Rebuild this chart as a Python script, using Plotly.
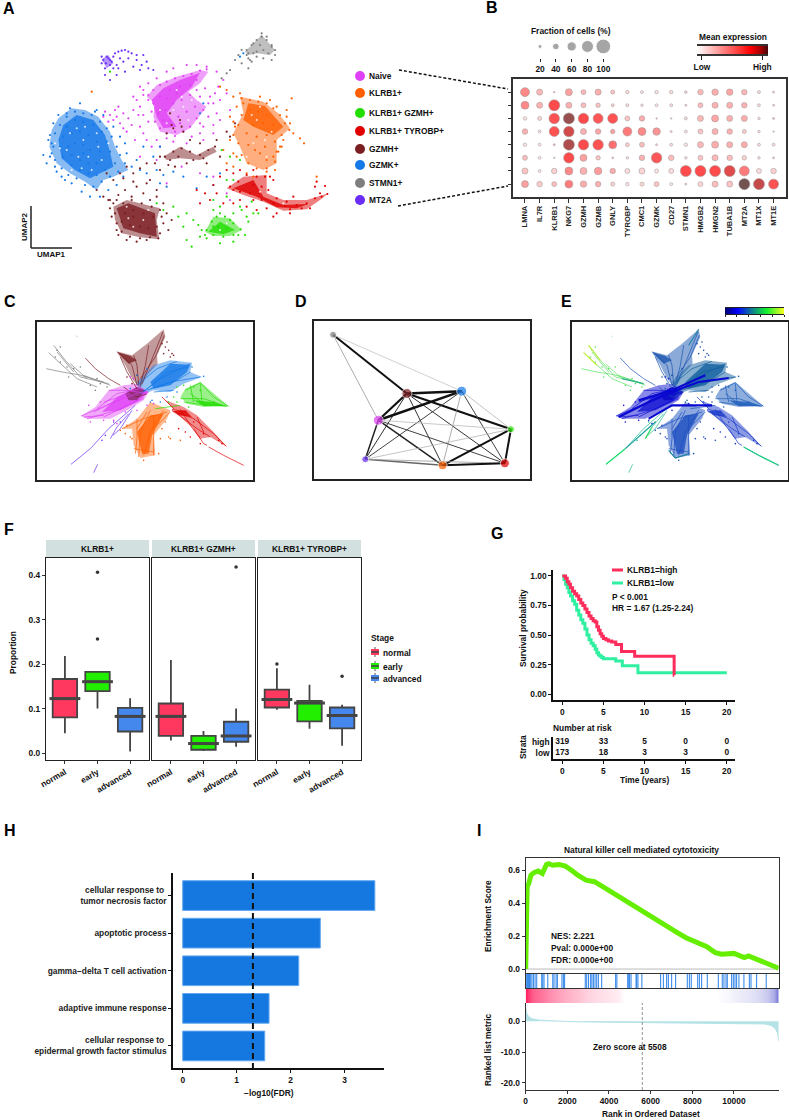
import plotly.graph_objects as go

# ---------- DATA ----------
clusters = ["Naive", "KLRB1+", "KLRB1+ GZMH+", "KLRB1+ TYROBP+", "GZMH+", "GZMK+", "STMN1+", "MT2A"]
genes = ["LMNA", "IL7R", "KLRB1", "NKG7", "GZMH", "GZMB", "GNLY", "TYROBP", "CMC1", "GZMK", "CD27", "STMN1",
         "HMGB2", "HMGN2", "TUBA1B", "MT2A", "MT1X", "MT1E"]
fraction = [
    [58, 36, 2, 43, 28, 36, 21, 17, 13, 17, 17, 10, 32, 39, 39, 32, 13, 6],
    [50, 36, 73, 36, 28, 24, 13, 13, 10, 13, 13, 6, 28, 36, 36, 32, 13, 6],
    [17, 21, 69, 73, 69, 65, 65, 28, 32, 2, 2, 13, 36, 43, 36, 36, 10, 6],
    [32, 13, 65, 69, 36, 32, 24, 58, 50, 47, 6, 13, 28, 36, 32, 21, 10, 2],
    [17, 13, 6, 73, 69, 69, 50, 21, 28, 6, 13, 17, 36, 43, 36, 36, 13, 13],
    [28, 13, 2, 69, 43, 24, 5, 10, 32, 69, 32, 10, 28, 36, 32, 24, 10, 6],
    [36, 13, 32, 50, 43, 47, 32, 28, 36, 21, 28, 73, 73, 73, 73, 65, 28, 32],
    [43, 32, 28, 50, 39, 32, 21, 17, 21, 28, 13, 6, 28, 36, 36, 73, 73, 65],
]
expression = [
    [.50, .30, .35, .40, .30, .35, .25, .15, .12, .12, .15, .20, .30, .35, .38, .30, .15, .20],
    [.50, .33, .75, .33, .28, .25, .20, .15, .12, .12, .15, .20, .28, .33, .33, .33, .15, .20],
    [.12, .18, .72, .95, .75, .70, .72, .25, .35, .30, .25, .15, .30, .38, .33, .35, .12, .30],
    [.33, .12, .72, .85, .33, .38, .40, .55, .50, .45, .20, .12, .25, .33, .33, .22, .15, .20],
    [.12, .10, .30, .92, .75, .72, .60, .20, .28, .20, .13, .12, .30, .35, .33, .35, .13, .15],
    [.28, .10, .25, .75, .40, .25, .25, .12, .33, .70, .28, .15, .25, .30, .28, .20, .12, .20],
    [.25, .10, .20, .50, .33, .42, .35, .15, .18, .12, .15, .75, .75, .75, .82, .55, .15, .20],
    [.40, .22, .28, .55, .35, .33, .20, .12, .18, .25, .10, .20, .18, .28, .25, 1.0, .88, .72],
]
fraction_legend = [20, 40, 60, 80, 100]
expression_levels = [0, .2, .4, .6, .75, .9, 1]

umap_poly = {
    "GZMK+": [(148,440),(155,390),(175,355),(215,325),(255,330),(295,350),(330,395),(345,440),(365,480),(385,510),(340,530),(310,540),(290,570),(255,545),(210,520),(170,490)],
    "Naive": [(440,290),(470,255),(530,230),(600,210),(625,215),(600,250),(565,275),(590,300),(620,320),(590,360),(570,385),(530,405),(480,395),(460,350),(465,310)],
    "GZMH+": [(340,620),(380,600),(480,625),(470,660),(478,718),(420,712),(365,700),(345,660)],
    "GZMH+2": [(490,470),(540,440),(590,465),(640,440),(650,455),(600,480),(540,475),(500,480)],
    "KLRB1+": [(720,290),(790,305),(835,340),(870,385),(830,420),(830,490),(790,510),(740,490),(720,440),(700,400),(730,340)],
    "KLRB1+ TYROBP+": [(680,565),(730,530),(800,525),(800,580),(850,600),(920,600),(985,580),(960,600),(920,628),(850,632),(790,605),(730,585)],
    "KLRB1+ GZMH+": [(615,695),(640,650),(690,655),(725,690),(690,708),(640,708)],
    "STMN1+": [(735,155),(785,105),(825,150),(810,165),(770,160),(745,165)],
    "MT2A": [(305,178),(325,165),(340,190),(320,205)],
}
umap_core = {
    "GZMK+": [(175,420),(190,375),(230,345),(280,360),(315,405),(330,455),(340,500),(300,520),(270,535),(225,510),(185,475)],
    "Naive": [(455,300),(490,265),(540,240),(600,218),(575,262),(530,300),(500,340),(530,380),(490,385),(470,350)],
    "KLRB1+": [(745,310),(795,318),(850,380),(820,405),(760,380),(730,360)],
    "GZMH+": [(350,625),(385,610),(465,640),(470,710),(420,700),(370,685)],
    "KLRB1+ TYROBP+": [(700,565),(760,540),(790,590),(850,615),(925,612),(890,625),(830,622),(770,590)],
    "KLRB1+ GZMH+": [(625,695),(660,665),(705,690),(670,703)],
}
umap_gaps = [(210,400),(250,420),(235,470),(290,400),(200,450),(265,470),(305,480),(230,385),(180,445),(275,510),(215,510),(325,430),(255,380),(295,440),(165,430),(245,505),(520,330),(550,320),(480,330),(530,270),(565,360),(500,370),(460,320),(545,290),(575,300),(770,360),(795,420),(760,430),(740,470),(800,470),(780,320),(815,395),(755,345),(400,680),(430,660),(380,620),(445,630),(385,655),(850,610),(780,575),(660,690),(680,670)]
umap_naive = [(315,335),(330,345),(345,330),(355,320),(370,340),(385,355),(340,360),(310,350),(360,370),(400,330),(415,345),(395,375),(380,395),(420,380),(430,400),(405,420),(370,385),(350,350),(325,365),(440,420),(455,440),(420,320),(430,345),(445,365),(410,300),(400,290),(430,270),(420,260),(445,250),(470,235),(500,215),(520,205),(560,195),(590,195),(620,200),(650,215),(670,240),(655,260),(645,280),(660,300),(640,310),(650,340),(625,350),(610,380),(640,375),(600,400),(575,410),(560,430),(520,425),(500,415),(470,420),(480,440),(610,420),(640,400),(660,360),(680,280),(690,330),(545,500),(600,520),(640,530),(680,580),(690,600),(500,550),(470,480),(420,470),
              (445,285),(460,270),(480,255),(500,245),(525,235),(550,228),(575,222),(600,212),(620,208),(590,240),(570,255),(540,260),(510,270),(480,290),(460,310),(455,335),(465,365),(480,385),(500,400),(525,408),(550,395),(570,380),(590,355),(610,330),(625,310),(600,290),(570,285),(545,300),(520,310),(495,330),(510,360),(535,350),(560,335),(585,320),(475,340),(445,300),(430,285),(600,370),(630,290),(615,265),(590,270),(530,280),(500,295),(540,370),(490,360),(525,395)]
umap_gzmh = [(290,570),(310,590),(325,600),(330,625),(355,585),(375,570),(395,590),(410,560),(430,580),(450,600),(470,590),(490,610),(500,640),(515,660),(505,690),(490,670),(480,700),(335,650),(350,690),(355,705),(380,720),(410,725),(440,720),(340,540),(360,520),(400,520),(420,505),(440,490),(465,490),(480,510),(505,495),(525,500),(470,570),(440,550),(400,545),(380,500),(500,400),(520,385),(550,395),(570,420),(600,430),(650,420),(680,395),(690,410),(705,370),(660,470),(620,490),(560,490),(540,360),(510,340),(515,375),(545,380),(370,535),(320,520),(450,540),(400,630),
             (340,610),(345,640),(350,670),(365,695),(390,710),(420,715),(450,712),(475,715),(470,680),(460,650),(480,630),(455,620),(425,610),(395,600),(370,610),(375,640),(400,650),(430,640),(420,680),(390,675),(365,665),(445,685),(330,600),(350,600),(485,650),(495,470),(520,455),(545,445),(570,455),(600,465),(625,450),(645,440),(610,475),(580,480),(535,470),(510,480),(480,470)]
umap_gzmk = [(130,465),(140,490),(150,405),(160,370),(165,500),(185,530),(215,550),(245,575),(270,590),(300,590),(325,570),(350,555),(370,530),(395,500),(410,480),(420,510),(440,520),(470,510),(490,525),(380,460),(375,430),(360,410),(340,380),(240,310),(210,325),(290,330),(460,470),(430,440),(480,440),(520,515),(550,530),(590,565),(640,555),(620,530),(480,550),(500,560),(660,520),(600,340),(610,310),(730,160),(720,170),(175,345),(155,430),(200,340),
             (165,400),(180,375),(200,350),(225,335),(250,340),(275,345),(300,365),(320,385),(335,410),(350,440),(360,465),(375,490),(160,440),(155,460),(165,480),(185,505),(205,525),(230,535),(255,555),(280,560),(305,545),(330,530),(355,515),(200,380),(225,360),(250,365),(280,375),(305,395),(320,425),(330,455),(345,490),(315,510),(290,525),(265,520),(240,510),(215,495),(190,470),(180,440),(190,410),(215,400),(240,395),(265,405),(290,425),(300,455),(290,490),(265,490),(240,480),(215,465),(205,440),(225,430),(250,435),(270,450),(250,460),(145,420),(150,470),(170,515),(195,540),(285,335),(310,345)]
umap_klrb1 = [(680,270),(700,290),(720,280),(780,290),(875,295),(860,330),(880,400),(900,415),(912,430),(840,440),(850,420),(825,510),(800,515),(740,520),(700,500),(680,490),(670,450),(690,420),(705,380),(690,350),(710,320),(660,260),(830,320),(870,370),(760,530),(710,470),(950,530),(275,275),(780,460),(820,470),(800,480),(835,455),
              (725,295),(750,300),(775,305),(800,310),(820,325),(840,345),(855,370),(868,390),(845,405),(825,425),(830,455),(825,485),(800,505),(770,505),(745,490),(725,465),(715,430),(700,405),(715,375),(725,345),(750,330),(775,335),(800,345),(820,375),(790,370),(760,375),(740,400),(770,410),(800,405),(795,440),(765,450),(745,435),(700,365),(730,310),(810,300),(860,350),(845,440),(700,460)]
umap_tyrobp = [(640,555),(650,580),(615,580),(660,530),(680,510),(700,520),(720,510),(760,510),(810,530),(820,540),(700,610),(670,610),(630,600),(720,600),(760,600),(770,630),(800,625),(820,650),(830,640),(870,640),(950,545),(945,560),(975,558),(960,580),(880,590),(740,620),(600,610),(590,570),
               (690,560),(715,545),(740,525),(770,530),(795,530),(805,570),(830,595),(860,605),(890,615),(920,610),(945,595),(965,590),(982,582),(930,625),(870,628),(820,610),(785,600),(750,580),(720,575),(760,555),(785,560),(700,570),(855,618),(905,625)]
umap_gzmh_b = [(470,610),(490,630),(520,620),(535,650),(560,640),(550,680),(580,660),(595,675),(600,710),(575,740),(560,720),(640,630),(660,620),(680,590),(700,640),(725,630),(740,650),(760,640),(775,640),(700,540),(680,540),(720,480),(665,450),(690,470),(745,665),(735,705),(700,725),(660,730),(620,715),(605,690),(720,620),(755,605),(330,215),(640,600),
               (620,690),(635,665),(650,650),(675,650),(700,670),(722,688),(700,705),(670,710),(640,705),(655,680),(680,685),(615,705),(660,640),(690,660),(715,705),(640,680)]
umap_stmn1 = [(705,180),(715,165),(725,190),(745,175),(755,185),(770,170),(790,175),(815,180),(825,165),(815,140),(800,110),(785,100),(760,130),(740,165),(725,150),(690,210),(680,220),(745,205),(750,180),(665,235),
              (740,150),(755,135),(770,120),(785,110),(800,120),(815,135),(825,150),(790,150),(770,155),(745,160),(760,160),(805,160),(780,135)]
umap_mt2a = [(340,170),(345,160),(355,155),(365,152),(375,150),(385,155),(395,160),(410,165),(430,165),(440,185),(425,195),(445,205),(460,210),(350,195),(370,185),(385,175),(360,175),(340,205),(315,225),(330,240),(350,225),(375,215),(420,210),(400,200),(305,170),(330,180),(355,205),(410,180),
             (310,180),(318,190),(325,175),(330,195),(305,190),(315,205),(335,185),(320,170)]

traj_poly = {
    "GZMH+": [(238,88),(285,100),(330,65),(380,22),(385,45),(360,100),(362,125),(330,160),(310,200),(285,170),(265,130)],
    "GZMK+": [(300,180),(350,130),(400,115),(465,122),(460,150),(495,165),(440,185),(400,210),(350,205),(310,220)],
    "KLRB1+ GZMH+": [(490,180),(530,215),(575,253),(500,255),(450,245),(430,225),(445,200)],
    "Naive": [(132,282),(175,255),(215,205),(260,190),(300,185),(335,210),(320,235),(270,265),(220,290),(150,290)],
    "KLRB1+": [(255,320),(300,290),(340,240),(400,265),(390,290),(350,340),(355,400),(310,408),(290,370),(285,320)],
    "KLRB1+ TYROBP+": [(385,235),(440,255),(480,280),(530,330),(570,375),(520,345),(490,350),(470,320),(430,285)],
}
traj_core = {
    "Naive": [(195,270),(240,225),(300,195),(335,210),(300,240),(250,265)],
    "GZMK+": [(340,180),(400,125),(460,128),(450,150),(400,190),(350,200)],
    "KLRB1+": [(300,330),(340,280),(380,275),(345,340),(335,395),(315,395)],
    "KLRB1+ TYROBP+": [(405,268),(445,265),(465,285),(425,280)],
    "KLRB1+ GZMH+": [(470,235),(530,240),(565,252),(500,252)],
    "GZMH+": [(240,90),(280,102),(300,115),(275,125),(260,110)],
    "center": [(265,215),(300,195),(325,205),(300,235),(275,235)],
}
traj_lines = {
    "GZMH+": [[(145,108),(175,140),(215,170),(250,190)],[(300,190),(285,130),(245,92)],[(305,190),(300,130),(290,100)],[(310,190),(325,130),(335,70)],[(315,185),(345,110),(378,30)],[(300,200),(270,150),(250,105)],[(310,170),(355,105),(382,40)],[(260,195),(300,225),(330,215)]],
    "GZMK+": [[(310,215),(370,170),(460,125)],[(320,210),(390,150),(455,135)],[(330,205),(400,180),(490,165)],[(300,190),(360,140),(420,118)],[(340,200),(420,175),(460,150)],[(350,210),(410,205)]],
    "KLRB1+ GZMH+": [[(445,205),(490,182),(530,225),(575,253)],[(430,230),(500,230),(565,252)],[(460,215),(500,245),(570,253)],[(440,240),(510,250)],[(490,185),(495,240)],[(460,190),(470,240)],[(355,260),(430,250)]],
    "Naive": [[(132,282),(220,245),(300,215)],[(150,290),(240,265),(320,225)],[(180,260),(240,215),(310,200)],[(215,205),(270,205),(330,215)],[(200,285),(270,250),(320,230)],[(170,270),(260,225)],[(140,285),(200,280)],[(200,240),(280,215)]],
    "KLRB1+": [[(340,265),(310,330),(305,405)],[(380,265),(340,330),(320,400)],[(300,290),(300,350),(295,395)],[(255,320),(320,290),(390,270)],[(350,280),(350,340),(350,400)],[(290,380),(350,390)],[(330,270),(300,320)],[(400,270),(360,310)]],
    "KLRB1+ TYROBP+": [[(405,265),(470,290),(530,335),(568,373)],[(430,262),(460,310),(490,350)],[(420,275),(480,320),(520,345)],[(480,285),(500,330)],[(405,262),(450,270)],[(515,375),(560,400),(620,430)],[(470,320),(500,365),(510,370)],[(375,225),(410,260)]],
    "STMN1+": [[(50,70),(85,115),(130,165),(215,185)],[(35,92),(75,130),(120,170),(180,195)],[(28,140),(75,150),(125,158),(200,180)],[(60,90),(110,150)],[(100,125),(150,170)],[(140,160),(220,190)],[(118,42),(121,44)]],
    "MT2A": [[(102,427),(160,380),(215,320),(295,250)],[(170,452),(182,427)],[(220,350),(240,315),(275,275)],[(228,340),(250,320),(285,265)]],
}
traj_dots = {
    "GZMH+": [(390,60),(395,85),(400,105),(410,100),(385,75),(380,95),(375,65),(405,95),(285,185),(270,165),(300,160)],
    "Naive": [(155,250),(190,240),(160,300),(200,295),(230,295),(240,305),(280,165),(290,170),(265,270),(300,265),(330,250),(350,245)],
    "GZMK+": [(280,200),(300,160),(340,240),(370,240),(420,210),(390,225),(500,163),(465,135),(330,140),(345,235)],
    "KLRB1+ GZMH+": [(420,195),(440,190),(470,195),(490,205),(420,240),(395,240),(410,225),(530,240),(455,255)],
    "KLRB1+": [(250,325),(265,335),(280,345),(270,310),(375,320),(385,300),(370,350),(395,345),(430,355),(400,350),(365,395),(285,350),(320,415)],
    "KLRB1+ TYROBP+": [(425,320),(445,330),(460,345),(490,365),(545,355),(555,365),(500,335),(470,300)],
    "STMN1+": [(55,105),(70,120),(90,135),(110,140),(60,85),(95,165),(130,135),(160,190),(175,205),(190,185),(210,195),(180,170),(70,75)],
    "MT2A": [(195,355),(230,300),(250,300),(205,340)],
}
pseudotime_colors = {"GZMH+":"#1a55b0","GZMK+":"#125f9f","KLRB1+ GZMH+":"#1c5cbc","Naive":"#1212d2","KLRB1+":"#1c4fc0",
                     "KLRB1+ TYROBP+":"#1838c8","STMN1+":"#58e060","MT2A":"#20b890","center":"#0808c8"}
pseudotime_core = [[(140,285),(230,240),(300,210),(380,180),(470,168)],[(200,235),(300,205),(400,160)],[(230,290),(300,250),(420,250)]]
pseudotime_tips = [([(350,70),(380,22)],"#2a86a8"),([(290,385),(310,408),(352,395)],"#1c80a0"),([(515,375),(560,400),(620,430)],"#20d880"),
                   ([(102,427),(160,380)],"#20e070"),([(160,380),(250,300)],"#18a0a0"),([(220,350),(240,315)],"#30e060"),
                   ([(50,70),(85,115)],"#c0f040"),([(35,92),(75,130)],"#c8f030"),([(150,170),(215,185)],"#30b090")]
pseudotime_levels = [0, 1, 2, 3, 4, 5]

graph_nodes = {"STMN1+":(662,135),"GZMH+":(809,311),"GZMK+":(918,304),"Naive":(752,391),"KLRB1+ GZMH+":(1016,418),
               "MT2A":(726,508),"KLRB1+":(880,526),"KLRB1+ TYROBP+":(1004,520)}
graph_weight = {"STMN1+":7,"GZMH+":10,"GZMK+":10,"Naive":10,"KLRB1+ GZMH+":7,"MT2A":7,"KLRB1+":9,"KLRB1+ TYROBP+":9}
graph_edges = [("STMN1+","GZMH+",2,"#111"),("STMN1+","GZMK+",.7,"#bbb"),("STMN1+","Naive",.7,"#888"),
    ("GZMH+","GZMK+",2.5,"#111"),("GZMH+","Naive",2.2,"#111"),("GZMH+","KLRB1+ GZMH+",2,"#111"),("GZMH+","KLRB1+",1,"#333"),
    ("GZMH+","KLRB1+ TYROBP+",1,"#333"),("GZMH+","MT2A",1,"#333"),("GZMK+","Naive",2.5,"#111"),("GZMK+","KLRB1+ GZMH+",.7,"#aaa"),
    ("GZMK+","KLRB1+",.7,"#888"),("GZMK+","KLRB1+ TYROBP+",1,"#444"),("GZMK+","MT2A",1,"#444"),("Naive","KLRB1+ GZMH+",.8,"#bbb"),
    ("Naive","MT2A",1.5,"#222"),("Naive","KLRB1+",1.5,"#222"),("Naive","KLRB1+ TYROBP+",1,"#444"),("KLRB1+ GZMH+","KLRB1+ TYROBP+",2,"#111"),
    ("KLRB1+ GZMH+","KLRB1+",2,"#111"),("KLRB1+ GZMH+","MT2A",.7,"#aaa"),("MT2A","KLRB1+",1.5,"#666"),("MT2A","KLRB1+ TYROBP+",.8,"#999"),
    ("KLRB1+","KLRB1+ TYROBP+",2,"#111")]

stages = ["normal", "early", "advanced"]
facets = ["KLRB1+", "KLRB1+ GZMH+", "KLRB1+ TYROBP+"]
box_low = [[.045, .101, .004], [.029, .005, .015], [.098, .055, .017]]
box_q1 = [[.081, .140, .049], [.039, .008, .026], [.103, .072, .056]]
box_med = [[.123, .161, .083], [.083, .022, .039], [.121, .113, .085]]
box_q3 = [[.167, .183, .102], [.112, .039, .071], [.143, .118, .103]]
box_high = [[.219, .183, .124], [.210, .050, .101], [.191, .154, .109]]
box_out = [[[], [.257, .407], []], [[], [], [.419]], [[.201], [], [.173]]]

km_high_t = [0, .2, .4, .6, .8, 1, 1.25, 1.5, 1.75, 2, 2.25, 2.5, 2.75, 3, 3.25, 3.5, 3.75, 4, 4.2, 4.4, 4.6, 4.8, 5, 5.3, 5.6, 6, 6.5, 7.2, 8.8, 13.6, 13.61]
km_high_s = [1, 1, .98, .95, .93, .90, .87, .85, .83, .80, .77, .75, .72, .69, .66, .64, .62, .61, .57, .54, .51, .49, .47, .46, .45, .44, .42, .36, .32, .16, .16]
km_low_t = [0, .2, .4, .6, .8, 1, 1.25, 1.5, 1.75, 2, 2.25, 2.5, 2.75, 3, 3.25, 3.5, 3.75, 4, 4.2, 4.4, 4.6, 4.8, 5, 6.5, 7.3, 9.2, 20]
km_low_s = [1, .97, .93, .90, .86, .83, .79, .76, .71, .67, .63, .60, .55, .50, .46, .43, .41, .38, .35, .33, .32, .31, .30, .28, .24, .18, .18]
risk_times = [0, 5, 10, 15, 20]
risk_high = [319, 33, 5, 0, 0]
risk_low = [173, 18, 3, 3, 0]

go_terms = ["cellular response to\u00a0<br>tumor necrosis factor", "apoptotic process", "gamma\u2212delta T cell activation",
            "adaptive immune response", "cellular response to\u00a0<br>epidermal growth factor stimulus"]
go_fdr = [3.56, 2.55, 2.15, 1.60, 1.52]
fdr_cut = 1.301

es_rank = [0, 40, 70, 150, 250, 400, 600, 800, 900, 1000, 1100, 1300, 1600, 1900, 2200, 2500, 2900, 3300, 3700, 4200, 4700, 5200, 5700, 6200, 6800, 7300, 7700, 8200, 8700, 9100, 9400, 10000, 10300, 10500, 10700, 11000, 11300, 11600, 12150]
es_val = [0, .30, .50, .52, .57, .585, .595, .58, .61, .635, .64, .63, .635, .625, .60, .57, .54, .53, .50, .46, .42, .385, .345, .30, .26, .22, .19, .16, .135, .10, .09, .095, .075, .07, .08, .065, .05, .035, .005]
hit_ranks = [50, 80, 130, 180, 240, 300, 370, 450, 530, 770, 820, 880, 1060, 1300, 1360, 1460, 1520, 1740, 1810, 1870, 2860, 2930, 3020, 3120, 3180, 3250, 3330, 3410, 3490, 3650, 4320, 4380, 4900, 4950, 4990, 5060, 5300, 5330, 5390, 5580, 6480, 6610, 6770, 6850, 7010, 7200, 7760, 7860, 7950, 8260, 8340, 8450, 8720, 9250, 9440, 9520, 9620, 9680, 9890, 9970, 10050, 10130, 10240, 10480, 10740, 10820, 11090, 11550]
strip_rank = [0, 150, 400, 800, 1200, 1600, 2000, 2500, 3000, 3500, 4000, 4400, 4700, 5500, 8000, 9200, 9800, 10300, 10800, 11200, 11600, 11900, 12150]
strip_val = [1, .85, .7, .6, .5, .42, .35, .28, .2, .15, .12, .08, 0, 0, 0, 0, -.05, -.1, -.15, -.2, -.3, -.45, -.8]
metric_rank = [0, 50, 150, 300, 600, 1200, 2000, 3000, 5000, 5508, 8000, 10000, 11000, 11500, 11800, 12000, 12100, 12150]
metric_val = [4.5, 2.5, 1.5, .8, .4, .1, -.1, -.25, -.4, -.45, -.5, -.6, -.7, -.9, -1.4, -2.5, -4, -6.5]
zero_rank = 5600

# ---------- STYLE ----------
W, H = 789, 1120
FF = "Liberation Sans"
FS = 8.4
colors = {"Naive":"#E040F5","KLRB1+":"#FF5F00","KLRB1+ GZMH+":"#22DD00","KLRB1+ TYROBP+":"#E00000",
          "GZMH+":"#7B1E22","GZMK+":"#1478E8","STMN1+":"#7F7F7F","MT2A":"#6A2DF5","center":"#8A2A70"}
stage_colors = {"normal":"#FF3860","early":"#22EE00","advanced":"#4488EE"}
expr_scale = [[0,"#ffffff"],[.3,"#ff9a9a"],[.75,"#ff0000"],[.9,"#a00000"],[1,"#3a0a0a"]]
pt_scale = [[0,"#000070"],[.2,"#0000ff"],[.45,"#108090"],[.7,"#10f030"],[1,"#ffff20"]]

def tf(size=FS, color="#111", weight=700):
    return dict(family=FF, size=size, color=color, weight=weight)

fig = go.Figure()
layout = {}
annots, shapes = [], []
n = 0
BASE = dict(showgrid=False, zeroline=False, fixedrange=True, automargin=False)

def axes(x0, y0, x1, y1, xo, yo):
    global n
    n += 1
    s = "" if n == 1 else str(n)
    layout["xaxis" + s] = dict(BASE, domain=[x0 / W, x1 / W], anchor="y" + s, **xo)
    layout["yaxis" + s] = dict(BASE, domain=[1 - y1 / H, 1 - y0 / H], anchor="x" + s, **yo)
    return "x" + s, "y" + s

def txt(x, y, t, size=FS, anchor="center", angle=0, color="#111", weight=700):
    annots.append(dict(x=x / W, y=1 - y / H, xref="paper", yref="paper", text=t, showarrow=False, xanchor=anchor,
                       yanchor="middle", textangle=angle, font=tf(size, color, weight), borderpad=0, borderwidth=0))

def pline(x0, y0, x1, y1, color="#111", width=1.5, dash="solid"):
    shapes.append(dict(type="line", xref="paper", yref="paper", x0=x0 / W, x1=x1 / W, y0=1 - y0 / H, y1=1 - y1 / H,
                       line=dict(color=color, width=width, dash=dash)))

def prect(x0, y0, x1, y1, fill, line=None, lw=0):
    shapes.append(dict(type="rect", xref="paper", yref="paper", x0=x0 / W, x1=x1 / W, y0=1 - y0 / H, y1=1 - y1 / H,
                       fillcolor=fill, line=dict(color=line or fill, width=lw)))

def rgba(hexc, a):
    h = hexc.lstrip("#")
    return "rgba(%d,%d,%d,%s)" % (int(h[:2], 16), int(h[2:4], 16), int(h[4:], 16), a)

def poly(pts, color, xa, ya, alpha=.8):
    fig.add_trace(go.Scatter(x=[p[0] for p in pts], y=[p[1] for p in pts], mode="lines", fill="toself",
                             fillcolor=rgba(color, alpha), line=dict(width=0), xaxis=xa, yaxis=ya, hoverinfo="skip"))

HID = dict(visible=False)
for t, x, y in [("A", 9, 9), ("B", 492, 8), ("C", 10, 301), ("D", 301, 301), ("E", 566, 301), ("F", 9, 529), ("G", 497, 533), ("H", 10, 830), ("I", 479, 830)]:
    txt(x, y, t, 16, color="#000")

# ---------- A ----------
xa, ya = axes(0, 0, 350, 270, dict(HID, range=[0, 1050]), dict(HID, range=[810, 0]))
for k, pts in umap_poly.items():
    poly(pts, colors[k.rstrip("2")], xa, ya, .5)
for k, pts in umap_core.items():
    poly(pts, colors[k], xa, ya, .8)
for name, pts in [("Naive", umap_naive), ("GZMK+", umap_gzmk), ("KLRB1+", umap_klrb1), ("KLRB1+ TYROBP+", umap_tyrobp),
                  ("KLRB1+ GZMH+", umap_gzmh_b), ("GZMH+", umap_gzmh), ("STMN1+", umap_stmn1), ("MT2A", umap_mt2a)]:
    fig.add_trace(go.Scatter(x=[p[0] for p in pts], y=[p[1] for p in pts], mode="markers", xaxis=xa, yaxis=ya,
                             marker=dict(size=2.2, color=colors[name]), hoverinfo="skip"))
fig.add_trace(go.Scatter(x=[p[0] for p in umap_gaps], y=[p[1] for p in umap_gaps], mode="markers", xaxis=xa, yaxis=ya,
                         marker=dict(size=2, color="rgba(255,255,255,.8)"), hoverinfo="skip"))
pline(31, 206, 31, 248, "#222", 1.5)
pline(31, 248, 72, 248, "#222", 1.5)
txt(24, 227, "UMAP2", 8, angle=-90)
txt(51, 255, "UMAP1", 8)

# legend of clusters
leg_y = [76, 93, 113, 131, 149, 165, 183, 200]
xa, ya = axes(0, 0, W, H, dict(HID, range=[0, W]), dict(HID, range=[H, 0]))
fig.add_trace(go.Scatter(x=[360] * 8, y=leg_y, mode="markers", xaxis=xa, yaxis=ya, hoverinfo="skip",
                         marker=dict(size=10, color=[colors[c] for c in clusters])))
for c, y in zip(clusters, leg_y):
    txt(369, y, c, FS, anchor="left")
pline(399, 70, 508, 89, "#111", 1.5, "3px,2px")
pline(398, 206, 508, 186, "#111", 1.5, "3px,2px")

# ---------- B ----------
def diam(p):
    return 1.2 + .135 * p

xa, ya = axes(513, 79, 786, 197,
              dict(range=[-.82, 17.85], tickvals=list(range(18)), ticktext=genes, tickangle=-90, tickfont=tf(7.5, "#222", 700),
                   showline=True, mirror=True, linecolor="#333", linewidth=1.5, ticks="outside", ticklen=4, tickcolor="#333"),
              dict(range=[7.98, -1.0], tickvals=list(range(8)), showticklabels=False,
                   showline=True, mirror=True, linecolor="#333", linewidth=1.5, ticks="outside", ticklen=3, tickcolor="#333"))
fx, fy, fs, fc = [], [], [], []
for r in range(8):
    for c in range(18):
        fx.append(c); fy.append(r); fs.append(diam(fraction[r][c])); fc.append(expression[r][c])
fig.add_trace(go.Scatter(x=fx, y=fy, mode="markers", xaxis=xa, yaxis=ya, hoverinfo="skip",
                         marker=dict(size=fs, color=fc, colorscale=expr_scale, cmin=0, cmax=1, showscale=False,
                                     line=dict(color="rgba(110,110,110,.75)", width=.7))))
txt(571, 31, "Fraction of cells (%)", FS)
xa, ya = axes(530, 36, 612, 58,
              dict(range=[7.3, 111], tickvals=fraction_legend, ticks="outside", ticklen=3, tickcolor="#222",
                   tickfont=tf(FS), showline=False),
              dict(HID, range=[-1, 1]))
fig.add_trace(go.Scatter(x=fraction_legend, y=[.05] * 5, mode="markers", xaxis=xa, yaxis=ya, hoverinfo="skip",
                         marker=dict(size=[diam(v) for v in fraction_legend], color="#7f7f7f")))
txt(733, 37, "Mean expression", FS)
xa, ya = axes(697, 46, 768, 54,
              dict(range=[0, 1], tickvals=[.07, .92], ticktext=["Low", "High"], ticks="outside", ticklen=4, tickcolor="#222",
                   tickfont=tf(FS), showline=True, mirror=True, linecolor="#333", linewidth=1.5),
              dict(HID, range=[0, 1]))
fig.add_trace(go.Heatmap(x=expression_levels, y=[0, 1], z=[expression_levels, expression_levels], colorscale=expr_scale,
                         zmin=0, zmax=1, showscale=False, zsmooth="best", xaxis=xa, yaxis=ya, hoverinfo="skip"))

# ---------- C ----------
FRAME = dict(showline=True, mirror=True, linecolor="#222", linewidth=1.5, showticklabels=False, ticks="")
def traj(xa, ya, palette, alpha, lw):
    for k, pts in traj_poly.items():
        poly(pts, palette[k], xa, ya, alpha)
    for k, pts in traj_core.items():
        poly(pts, palette[k], xa, ya, .8)
    for k, lines in traj_lines.items():
        for ln in lines:
            fig.add_trace(go.Scatter(x=[p[0] for p in ln], y=[p[1] for p in ln], mode="lines", xaxis=xa, yaxis=ya,
                                     line=dict(color=palette[k], width=lw), hoverinfo="skip"))
    for k, pts in traj_dots.items():
        fig.add_trace(go.Scatter(x=[p[0] for p in pts], y=[p[1] for p in pts], mode="markers", xaxis=xa, yaxis=ya,
                                 marker=dict(size=1.6, color=palette[k]), hoverinfo="skip"))

xa, ya = axes(37, 322, 253, 480, dict(FRAME, range=[0, 648]), dict(FRAME, range=[474, 0]))
traj(xa, ya, colors, .45, .7)

# ---------- D ----------
xa, ya = axes(314, 321, 530, 479, dict(FRAME, range=[624, 1054]), dict(FRAME, range=[567, 94]))
for a, b, w, col in graph_edges:
    fig.add_trace(go.Scatter(x=[graph_nodes[a][0], graph_nodes[b][0]], y=[graph_nodes[a][1], graph_nodes[b][1]], mode="lines",
                             xaxis=xa, yaxis=ya, line=dict(color=col, width=w), hoverinfo="skip"))
names = list(graph_nodes)
fig.add_trace(go.Scatter(x=[graph_nodes[k][0] for k in names], y=[graph_nodes[k][1] for k in names], mode="markers", xaxis=xa, yaxis=ya,
                         hoverinfo="skip", marker=dict(size=[graph_weight[k] for k in names], color=[colors[k] for k in names])))

# ---------- E ----------
xa, ya = axes(572, 322, 788, 480, dict(FRAME, range=[0, 648]), dict(FRAME, range=[474, 0]))
traj(xa, ya, pseudotime_colors, .5, .7)
for ln in pseudotime_core:
    fig.add_trace(go.Scatter(x=[p[0] for p in ln], y=[p[1] for p in ln], mode="lines", xaxis=xa, yaxis=ya,
                             line=dict(color="#0808d0", width=2.2), hoverinfo="skip"))
for ln, col in pseudotime_tips:
    fig.add_trace(go.Scatter(x=[p[0] for p in ln], y=[p[1] for p in ln], mode="lines", xaxis=xa, yaxis=ya,
                             line=dict(color=col, width=1.2), hoverinfo="skip"))
xa, ya = axes(725, 308, 784, 314,
              dict(range=[0, 5], tickvals=pseudotime_levels, ticks="outside", ticklen=2, tickcolor="#222", showticklabels=False,
                   showline=True, mirror=True, linecolor="#222", linewidth=1),
              dict(HID, range=[0, 1]))
fig.add_trace(go.Heatmap(x=pseudotime_levels, y=[0, 1], z=[pseudotime_levels, pseudotime_levels], colorscale=pt_scale, zsmooth="best",
                         showscale=False, xaxis=xa, yaxis=ya, hoverinfo="skip"))

# ---------- F ----------
panel_x = [(46, 149), (152, 255), (258, 361)]
for i, (x0, x1) in enumerate(panel_x):
    prect(x0, 540, x1, 557, "#D2E0E0")
    txt((x0 + x1) / 2, 549, facets[i], FS)
    yo = dict(range=[-.015, .439], showline=True, mirror=True, linecolor="#222", linewidth=1.2)
    if i == 0:
        yo.update(tickvals=[0, .1, .2, .3, .4], ticktext=["0.0", "0.1", "0.2", "0.3", "0.4"], ticks="outside", ticklen=3, tickcolor="#333", tickfont=tf(FS))
    else:
        yo.update(showticklabels=False, ticks="")
    xa, ya = axes(x0, 558, x1, 760,
                  dict(range=[.42, 3.58], tickvals=[1, 2, 3], ticktext=stages, tickangle=-30, ticks="outside", ticklen=3, tickcolor="#333",
                       tickfont=tf(FS), showline=True, mirror=True, linecolor="#222", linewidth=1.2), yo)
    for j, st in enumerate(stages):
        fig.add_trace(go.Box(x=[j + 1], lowerfence=[box_low[i][j]], q1=[box_q1[i][j]], median=[box_med[i][j]], q3=[box_q3[i][j]],
                             upperfence=[box_high[i][j]], width=.75, whiskerwidth=0, fillcolor=stage_colors[st],
                             line=dict(color="#444", width=1.8), xaxis=xa, yaxis=ya, hoverinfo="skip", boxpoints=False))
        fig.add_trace(go.Scatter(x=[j + 1], y=[box_med[i][j]], mode="markers", xaxis=xa, yaxis=ya, hoverinfo="skip",
                                 marker=dict(symbol="line-ew", size=22, line=dict(color="#444", width=3))))
        if box_out[i][j]:
            fig.add_trace(go.Scatter(x=[j + 1] * len(box_out[i][j]), y=box_out[i][j], mode="markers", xaxis=xa, yaxis=ya,
                                     hoverinfo="skip", marker=dict(size=3.5, color="#333")))
txt(13, 653, "Proportion", FS, angle=-90)
txt(382, 638, "Stage", FS)
for st, y in zip(stages, [652, 666, 678]):
    pline(375, y - 5, 375, y + 5, "#555", 1)
    prect(371, y - 3, 379, y + 3, stage_colors[st])
    pline(371, y, 379, y, "#444", 1.6)
    txt(383, y + 1, st, FS, anchor="left")

# ---------- G ----------
AX = dict(showline=True, linecolor="#111", linewidth=1.5, ticks="outside", ticklen=3, tickcolor="#111", tickfont=tf(FS))
xa, ya = axes(553, 570, 735, 700, dict(AX, range=[-1.13, 21], tickvals=risk_times),
              dict(AX, range=[-.05, 1.05], tickvals=[0, .25, .5, .75, 1], ticktext=["0.00", "0.25", "0.50", "0.75", "1.00"]))
fig.add_trace(go.Scatter(x=km_low_t, y=km_low_s, mode="lines", line=dict(color="#2EF0A0", width=3, shape="hv"), xaxis=xa, yaxis=ya, hoverinfo="skip"))
fig.add_trace(go.Scatter(x=km_high_t, y=km_high_s, mode="lines", line=dict(color="#FF2D5B", width=3, shape="hv"), xaxis=xa, yaxis=ya, hoverinfo="skip"))
txt(523, 628, "Survival probability", FS, angle=-90)
pline(612, 570, 623, 570, "#FF2D5B", 3)
pline(612, 583, 623, 583, "#2EF0A0", 3)
txt(627, 570, "KLRB1=high", FS, anchor="left")
txt(627, 583, "KLRB1=low", FS, anchor="left")
txt(612, 597, "P &lt; 0.001", FS, anchor="left")
txt(612, 608, "HR = 1.67 (1.25-2.24)", FS, anchor="left")
txt(553, 728, "Number at risk", FS, anchor="left")
xa, ya = axes(553, 737, 735, 759, dict(AX, range=[-1.13, 21], tickvals=risk_times),
              dict(AX, range=[.455, 2.45], tickvals=[1, 2], ticktext=["low", "high"], ticks=""))
fig.add_trace(go.Scatter(x=risk_times + risk_times, y=[2] * 5 + [1] * 5, mode="text", xaxis=xa, yaxis=ya, hoverinfo="skip",
                         text=[str(v) for v in risk_high + risk_low], textfont=tf(FS), textposition="middle center"))
txt(523, 747, "Strata", FS, angle=-90)
txt(644, 780, "Time (years)", FS)

# ---------- H ----------
xa, ya = axes(173, 873, 384, 1068,
              dict(AX, range=[-.18, 3.73], tickvals=[0, 1, 2, 3]),
              dict(AX, range=[4.586, -.6], tickvals=[0, 1, 2, 3, 4], ticktext=go_terms, tickfont=tf(FS, "#222")))
fig.add_trace(go.Bar(x=go_fdr, y=[0, 1, 2, 3, 4], orientation="h", width=.79, xaxis=xa, yaxis=ya, hoverinfo="skip",
                     marker=dict(color="#1478E0", line=dict(color="#62A8F0", width=1))))
fig.add_trace(go.Scatter(x=[fdr_cut, fdr_cut], y=[-.6, 4.586], mode="lines", xaxis=xa, yaxis=ya, hoverinfo="skip",
                         line=dict(color="#111", width=2, dash="6px,4px")))
txt(269, 1093, "\u2212log10(FDR)", FS)

# ---------- I ----------
IBOX = dict(showline=True, mirror=True, linecolor="#333", linewidth=1.2)
RX = [0, 12150]
xa, ya = axes(525.7, 858, 778.7, 973, dict(IBOX, range=RX, showticklabels=False, ticks=""),
              dict(IBOX, range=[-.024, .674], tickvals=[0, .2, .4, .6], ticktext=["0.0", "0.2", "0.4", "0.6"], ticks="outside",
                   ticklen=3, tickcolor="#333", tickfont=tf(FS)))
fig.add_trace(go.Scatter(x=RX, y=[0, 0], mode="lines", line=dict(color="#bbb", width=1), xaxis=xa, yaxis=ya, hoverinfo="skip"))
fig.add_trace(go.Scatter(x=es_rank, y=es_val, mode="lines", line=dict(color="#66EE00", width=5), xaxis=xa, yaxis=ya, hoverinfo="skip"))
txt(641, 850, "Natural killer cell mediated cytotoxicity", FS)
txt(551, 936, "NES: 2.221", FS, anchor="left")
txt(551, 948, "Pval: 0.000e+00", FS, anchor="left")
txt(551, 960, "FDR: 0.000e+00", FS, anchor="left")
txt(488, 916, "Enrichment Score", FS, angle=-90)

xa, ya = axes(525.7, 974, 778.7, 988, dict(IBOX, range=RX, showticklabels=False, ticks=""),
              dict(IBOX, range=[0, 1], showticklabels=False, ticks=""))
hx, hy = [], []
for r in hit_ranks:
    hx += [r, r, None]; hy += [0, 1, None]
fig.add_trace(go.Scatter(x=hx, y=hy, mode="lines", line=dict(color="#2a80e8", width=1), xaxis=xa, yaxis=ya, hoverinfo="skip"))

xa, ya = axes(525.7, 989, 778.7, 1003, dict(HID, range=RX), dict(HID, range=[0, 1]))
fig.add_trace(go.Heatmap(x=strip_rank, y=[0, 1], z=[strip_val, strip_val], zmin=-1, zmax=1, zsmooth="best", showscale=False,
                         colorscale=[[0, "#4848c8"], [.5, "#ffffff"], [1, "#ff2060"]], xaxis=xa, yaxis=ya, hoverinfo="skip"))

xa, ya = axes(525.7, 1003, 778.7, 1090,
              dict(range=RX, tickvals=[0, 2000, 4000, 6000, 8000, 10000], tickformat="d", ticks="outside", ticklen=3, tickcolor="#333", tickfont=tf(FS),
                   showline=True, linecolor="#333", linewidth=1.2),
              dict(range=[-22.3, 5.9], tickvals=[0, -10, -20], ticktext=["0.0", "-10.0", "-20.0"], ticks="outside", ticklen=3, tickcolor="#333",
                   tickfont=tf(FS), showline=True, linecolor="#333", linewidth=1.2))
fig.add_trace(go.Scatter(x=metric_rank, y=metric_val, mode="lines", fill="tozeroy", fillcolor="#B4E2E6", line=dict(color="#B4E2E6", width=1),
                         xaxis=xa, yaxis=ya, hoverinfo="skip"))
fig.add_trace(go.Scatter(x=[zero_rank, zero_rank], y=[-22.3, 5.9], mode="lines", line=dict(color="#777", width=.8, dash="3px,2px"),
                         xaxis=xa, yaxis=ya, hoverinfo="skip"))
txt(630, 1047, "Zero score at 5508", FS)
txt(488, 1050, "Ranked list metric", FS, angle=-90)
txt(651, 1114, "Rank in Ordered Dataset", FS)

fig.update_layout(width=W, height=H, margin=dict(l=0, r=0, t=0, b=0), paper_bgcolor="white", plot_bgcolor="rgba(0,0,0,0)",
                  showlegend=False, annotations=annots, shapes=shapes, font=dict(family=FF), **layout)
fig.write_html("out.html", config=dict(displayModeBar=False), post_script="document.body.style.margin='0';")
